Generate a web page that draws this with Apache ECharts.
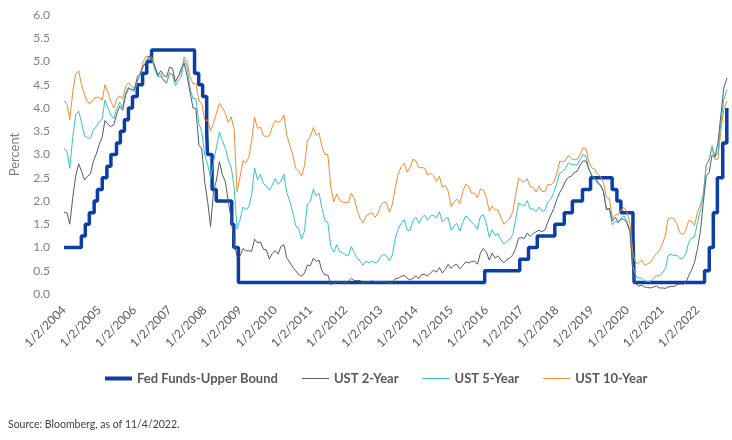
<!DOCTYPE html>
<html>
<head>
<meta charset="utf-8">
<script src="https://cdn.jsdelivr.net/npm/echarts@6/dist/echarts.min.js"></script>
<style>
  html, body { margin: 0; padding: 0; background: #fff; }
  #chart { width: 732px; height: 440px; }
</style>
</head>
<body>
<div id="chart"></div>
<script>
  // x axis tick labels (one per year)
  var tickLabels = ['1/2/2004', '1/2/2005', '1/2/2006', '1/2/2007', '1/2/2008', '1/2/2009', '1/2/2010',
    '1/2/2011', '1/2/2012', '1/2/2013', '1/2/2014', '1/2/2015', '1/2/2016', '1/2/2017', '1/2/2018',
    '1/2/2019', '1/2/2020', '1/2/2021', '1/2/2022'];

  var startDate = '2004-01-02';
  var endDate = '2022-11-04';

  // Fed funds upper bound: change date, new level
  var fedDates = ['2004-01-02', '2004-06-30', '2004-08-10', '2004-09-21', '2004-11-10', '2004-12-14',
    '2005-02-02', '2005-03-22', '2005-05-03', '2005-06-30', '2005-08-09', '2005-09-20', '2005-11-01',
    '2005-12-13', '2006-01-31', '2006-03-28', '2006-05-10', '2006-06-29', '2007-09-18', '2007-10-31',
    '2007-12-11', '2008-01-22', '2008-01-30', '2008-03-18', '2008-04-30', '2008-10-08', '2008-10-29',
    '2008-12-16', '2015-12-16', '2016-12-14', '2017-03-15', '2017-06-14', '2017-12-13', '2018-03-21',
    '2018-06-13', '2018-09-26', '2018-12-19', '2019-07-31', '2019-09-18', '2019-10-30', '2020-03-03',
    '2020-03-15', '2022-03-16', '2022-05-04', '2022-06-15', '2022-07-27', '2022-09-21', '2022-11-02',
    '2022-11-04'];
  var fedValues = [1.00, 1.25, 1.50, 1.75, 2.00, 2.25,
    2.50, 2.75, 3.00, 3.25, 3.50, 3.75, 4.00,
    4.25, 4.50, 4.75, 5.00, 5.25, 4.75, 4.50,
    4.25, 3.50, 3.00, 2.25, 2.00, 1.50, 1.00,
    0.25, 0.50, 0.75, 1.00, 1.25, 1.50, 1.75,
    2.00, 2.25, 2.50, 2.25, 2.00, 1.75, 1.25,
    0.25, 0.50, 1.00, 1.75, 2.50, 3.25, 4.00,
    4.00];

  // monthly yields, Jan 2004 .. Nov 2022
  var ust2 = [
    1.76, 1.74, 1.50, 2.07, 2.53, 2.80, 2.64, 2.45, 2.53, 2.58, 2.85, 3.01,
    3.22, 3.38, 3.73, 3.65, 3.60, 3.64, 3.87, 4.04, 3.95, 4.27, 4.42, 4.40,
    4.40, 4.67, 4.73, 4.89, 4.97, 5.12, 5.05, 4.90, 4.70, 4.80, 4.70, 4.67,
    4.88, 4.85, 4.57, 4.67, 4.85, 4.96, 4.70, 4.34, 4.00, 3.99, 3.20, 3.12,
    2.40, 1.97, 1.45, 2.20, 2.45, 2.85, 2.57, 2.42, 2.00, 1.61, 1.10, 0.80,
    0.81, 0.98, 0.93, 0.93, 0.92, 1.18, 1.10, 1.12, 0.96, 0.95, 0.75, 0.87,
    0.93, 0.86, 1.02, 1.06, 0.78, 0.68, 0.58, 0.50, 0.42, 0.38, 0.45, 0.62,
    0.61, 0.77, 0.70, 0.73, 0.50, 0.41, 0.41, 0.20, 0.24, 0.27, 0.25, 0.26,
    0.24, 0.28, 0.34, 0.29, 0.29, 0.29, 0.23, 0.27, 0.26, 0.28, 0.27, 0.26,
    0.27, 0.27, 0.26, 0.23, 0.25, 0.33, 0.34, 0.38, 0.40, 0.34, 0.30, 0.34,
    0.39, 0.33, 0.42, 0.42, 0.39, 0.45, 0.51, 0.47, 0.57, 0.45, 0.53, 0.64,
    0.55, 0.62, 0.64, 0.54, 0.61, 0.69, 0.67, 0.70, 0.71, 0.64, 0.88, 0.98,
    0.90, 0.73, 0.88, 0.77, 0.82, 0.73, 0.67, 0.74, 0.77, 0.84, 0.98, 1.20,
    1.21, 1.20, 1.31, 1.24, 1.30, 1.34, 1.37, 1.34, 1.38, 1.55, 1.70, 1.84,
    2.03, 2.18, 2.28, 2.43, 2.51, 2.53, 2.61, 2.64, 2.77, 2.86, 2.86, 2.68,
    2.54, 2.50, 2.41, 2.34, 2.21, 1.81, 1.84, 1.57, 1.65, 1.55, 1.61, 1.61,
    1.52, 1.33, 0.45, 0.22, 0.17, 0.19, 0.15, 0.14, 0.13, 0.15, 0.17, 0.13,
    0.13, 0.12, 0.15, 0.16, 0.16, 0.20, 0.22, 0.21, 0.24, 0.39, 0.52, 0.68,
    0.98, 1.36, 1.94, 2.54, 2.61, 2.99, 2.94, 3.25, 3.86, 4.43, 4.65
  ];
  var ust5 = [
    3.12, 3.07, 2.70, 3.39, 3.85, 3.93, 3.69, 3.40, 3.36, 3.35, 3.53, 3.60,
    3.71, 3.77, 4.17, 4.00, 3.85, 3.77, 3.98, 4.12, 4.01, 4.33, 4.45, 4.39,
    4.35, 4.57, 4.72, 4.90, 5.00, 5.07, 5.04, 4.82, 4.67, 4.69, 4.58, 4.53,
    4.75, 4.71, 4.48, 4.59, 4.67, 5.03, 4.88, 4.43, 4.20, 4.20, 3.67, 3.49,
    2.98, 2.78, 2.48, 2.84, 3.15, 3.49, 3.30, 3.14, 2.88, 2.73, 2.29, 1.40,
    1.60, 1.87, 1.82, 1.86, 2.13, 2.71, 2.46, 2.57, 2.37, 2.33, 2.23, 2.34,
    2.48, 2.36, 2.43, 2.58, 2.18, 2.00, 1.76, 1.47, 1.41, 1.18, 1.35, 1.93,
    1.99, 2.26, 2.11, 2.17, 1.84, 1.58, 1.54, 1.02, 0.90, 1.06, 0.91, 0.89,
    0.84, 0.83, 1.02, 0.89, 0.76, 0.71, 0.62, 0.71, 0.67, 0.71, 0.67, 0.70,
    0.81, 0.85, 0.82, 0.71, 0.84, 1.20, 1.40, 1.52, 1.60, 1.37, 1.37, 1.58,
    1.65, 1.52, 1.64, 1.70, 1.59, 1.68, 1.70, 1.63, 1.77, 1.55, 1.62, 1.64,
    1.37, 1.47, 1.52, 1.35, 1.54, 1.68, 1.63, 1.54, 1.49, 1.39, 1.67, 1.70,
    1.52, 1.22, 1.38, 1.26, 1.30, 1.17, 1.07, 1.13, 1.18, 1.27, 1.60, 1.96,
    1.92, 1.90, 2.01, 1.82, 1.84, 1.77, 1.87, 1.78, 1.80, 1.98, 2.05, 2.18,
    2.38, 2.60, 2.63, 2.70, 2.82, 2.78, 2.78, 2.77, 2.89, 3.00, 2.95, 2.68,
    2.54, 2.49, 2.37, 2.33, 2.19, 1.83, 1.83, 1.49, 1.57, 1.53, 1.64, 1.68,
    1.56, 1.32, 0.59, 0.39, 0.34, 0.34, 0.28, 0.27, 0.27, 0.34, 0.39, 0.39,
    0.45, 0.54, 0.82, 0.86, 0.82, 0.84, 0.76, 0.77, 0.86, 1.11, 1.20, 1.23,
    1.54, 1.81, 2.11, 2.78, 2.87, 3.19, 2.96, 3.03, 3.70, 4.18, 4.40
  ];
  var ust10 = [
    4.15, 4.08, 3.75, 4.35, 4.72, 4.80, 4.50, 4.28, 4.13, 4.10, 4.19, 4.23,
    4.22, 4.17, 4.50, 4.34, 4.14, 4.00, 4.18, 4.26, 4.20, 4.46, 4.54, 4.47,
    4.42, 4.57, 4.72, 4.99, 5.11, 5.11, 5.09, 4.88, 4.72, 4.73, 4.60, 4.56,
    4.76, 4.72, 4.56, 4.69, 4.75, 5.10, 5.00, 4.67, 4.52, 4.53, 4.15, 4.10,
    3.74, 3.74, 3.51, 3.68, 3.88, 4.10, 4.01, 3.89, 3.69, 3.81, 3.53, 2.20,
    2.52, 2.87, 2.82, 2.93, 3.29, 3.80, 3.56, 3.59, 3.40, 3.39, 3.40, 3.59,
    3.73, 3.69, 3.73, 3.85, 3.42, 3.20, 3.01, 2.70, 2.65, 2.54, 2.76, 3.29,
    3.39, 3.58, 3.41, 3.46, 3.17, 3.00, 3.00, 2.30, 1.98, 2.15, 2.01, 1.98,
    1.97, 1.97, 2.17, 2.05, 1.80, 1.62, 1.53, 1.68, 1.72, 1.75, 1.65, 1.72,
    1.91, 1.98, 1.96, 1.76, 1.93, 2.30, 2.58, 2.74, 2.81, 2.62, 2.72, 2.90,
    2.86, 2.71, 2.72, 2.71, 2.56, 2.60, 2.54, 2.42, 2.53, 2.30, 2.33, 2.21,
    1.88, 1.98, 2.04, 1.94, 2.20, 2.36, 2.32, 2.17, 2.17, 2.07, 2.26, 2.24,
    2.09, 1.78, 1.89, 1.81, 1.81, 1.64, 1.50, 1.56, 1.63, 1.76, 2.14, 2.49,
    2.43, 2.42, 2.48, 2.30, 2.30, 2.19, 2.32, 2.21, 2.20, 2.36, 2.35, 2.40,
    2.58, 2.86, 2.84, 2.87, 2.98, 2.91, 2.89, 2.89, 3.00, 3.15, 3.12, 2.83,
    2.71, 2.68, 2.57, 2.53, 2.40, 2.07, 2.06, 1.63, 1.70, 1.71, 1.81, 1.86,
    1.76, 1.50, 0.87, 0.66, 0.67, 0.73, 0.62, 0.65, 0.68, 0.79, 0.87, 0.93,
    1.08, 1.26, 1.61, 1.64, 1.62, 1.52, 1.32, 1.28, 1.37, 1.58, 1.56, 1.47,
    1.76, 1.93, 2.13, 2.75, 2.90, 3.14, 2.90, 2.90, 3.52, 3.98, 4.15
  ];

  var DAY = 86400000;
  function toX(s) {
    var p = s.split('-');
    var t = Date.UTC(+p[0], +p[1] - 1, +p[2]);
    var p0 = startDate.split('-');
    return (t - Date.UTC(+p0[0], +p0[1] - 1, +p0[2])) / (365.25 * DAY);
  }

  // month dates for the yield series
  var monthDates = [];
  for (var i = 0; i < ust2.length; i++) {
    var y = 2004 + Math.floor(i / 12), m = i % 12 + 1;
    monthDates.push(y + '-' + (m < 10 ? '0' + m : m) + '-02');
  }
  monthDates[monthDates.length - 1] = endDate;

  function pairs(dates, vals) {
    return vals.map(function (v, i) { return [toX(dates[i]), v]; });
  }

  var font = 'Lato, "Open Sans", sans-serif';
  var chart = echarts.init(document.getElementById('chart'), null, {renderer: 'canvas'});
  var option = {
    animation: false,
    backgroundColor: '#fff',
    grid: {left: 59, right: 5, top: 15, bottom: 146},
    xAxis: {
      type: 'value',
      min: 0,
      max: toX(endDate),
      interval: 1,
      axisLine: {show: false},
      axisTick: {show: false},
      splitLine: {show: false},
      axisLabel: {
        rotate: 45,
        margin: 14,
        color: '#595959',
        fontSize: 12,
        fontFamily: font,
        showMaxLabel: false,
        formatter: function (v) {
          var k = Math.round(v);
          return Math.abs(v - k) < 1e-6 && tickLabels[k] ? tickLabels[k] : '';
        }
      }
    },
    yAxis: {
      type: 'value',
      min: 0,
      max: 6,
      interval: 0.5,
      name: 'Percent',
      nameLocation: 'middle',
      nameGap: 43,
      nameTextStyle: {color: '#7f7f7f', fontSize: 13, fontFamily: font},
      axisLine: {show: false},
      axisTick: {show: false},
      splitLine: {show: false},
      axisLabel: {
        color: '#7f7f7f', fontSize: 12, fontFamily: font, margin: 14,
        formatter: function (v) { return v.toFixed(1); }
      }
    },
    legend: {
      left: 100,
      top: 367,
      itemWidth: 27,
      itemHeight: 10,
      itemGap: 24,
      itemStyle: {borderWidth: 0},
      textStyle: {color: '#595959', fontSize: 13, fontWeight: 'bold', fontFamily: font},
      data: [
        {name: 'Fed Funds-Upper Bound', icon: 'path://M0,0H27V4H0Z'},
        {name: 'UST 2-Year', icon: 'path://M0,0H27V1H0Z'},
        {name: 'UST 5-Year', icon: 'path://M0,0H27V1H0Z'},
        {name: 'UST 10-Year', icon: 'path://M0,0H27V1H0Z'}
      ]
    },
    graphic: [{
      type: 'text',
      left: 8,
      top: 419,
      style: {text: 'Source: Bloomberg, as of 11/4/2022.', fill: '#404040', fontSize: 10.5, fontFamily: font}
    }],
    series: [
      {
        name: 'UST 10-Year', type: 'line', symbol: 'none', z: 2,
        lineStyle: {color: '#F28C30', width: 1}, itemStyle: {color: '#F28C30'},
        data: pairs(monthDates, ust10)
      },
      {
        name: 'UST 5-Year', type: 'line', symbol: 'none', z: 3,
        lineStyle: {color: '#35C3C8', width: 1}, itemStyle: {color: '#35C3C8'},
        data: pairs(monthDates, ust5)
      },
      {
        name: 'UST 2-Year', type: 'line', symbol: 'none', z: 4,
        lineStyle: {color: '#555C66', width: 1}, itemStyle: {color: '#555C66'},
        data: pairs(monthDates, ust2)
      },
      {
        name: 'Fed Funds-Upper Bound', type: 'line', symbol: 'none', step: 'end', z: 1,
        lineStyle: {color: '#0B3FA6', width: 3.5}, itemStyle: {color: '#0B3FA6'},
        data: pairs(fedDates, fedValues)
      }
    ]
  };
  chart.setOption(option);
</script>
</body>
</html>
